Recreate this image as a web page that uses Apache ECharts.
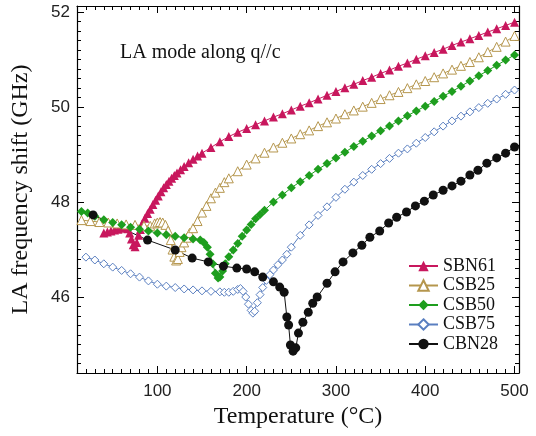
<!DOCTYPE html>
<html>
<head>
<meta charset="utf-8">
<script src="https://cdn.jsdelivr.net/npm/echarts@6/dist/echarts.min.js"></script>
<style>
  html, body { margin: 0; padding: 0; background: #fff; }
  #main { width: 536px; height: 436px; }
</style>
</head>
<body>
<div id="main"></div>
<script>
// [temperature, LA shift]
let sbn61 = [[40,47.35],[44,47.37],[48,47.39],[52,47.41],[56,47.43],[60,47.45],[64,47.47],[67,47.44],[69,47.35],[71,47.22],[73,47.1],[75,47.06],[77,47.15],[79,47.3],[81,47.42],[83,47.55],[86,47.66],[89,47.76],[92,47.85],[95,47.95],[98,48.04],[101,48.13],[104,48.22],[107,48.3],[110,48.37],[113,48.44],[116,48.5],[119,48.56],[122,48.61],[126,48.68],[130,48.75],[135,48.83],[140,48.9],[145,48.97],[150,49.03],[160,49.15],[170,49.27],[180,49.38],[190,49.47],[200,49.55],[210,49.63],[220,49.71],[230,49.79],[240,49.86],[250,49.94],[260,50.02],[270,50.09],[280,50.17],[290,50.25],[300,50.33],[310,50.41],[320,50.48],[330,50.56],[340,50.63],[350,50.71],[360,50.78],[370,50.86],[380,50.93],[390,51.01],[400,51.08],[410,51.15],[420,51.22],[430,51.3],[440,51.37],[450,51.44],[460,51.51],[470,51.58],[480,51.65],[490,51.72],[500,51.79]];

let csb25 = [[15,47.62],[25,47.6],[35,47.58],[45,47.57],[55,47.55],[65,47.53],[75,47.52],[85,47.5],[92,47.5],[97,47.55],[100,47.57],[103,47.58],[106,47.57],[109,47.52],[112,47.4],[115,47.2],[117,47.0],[119,46.85],[121,46.77],[123,46.8],[125,46.95],[127,47.05],[130,47.15],[133,47.25],[136,47.35],[140,47.45],[145,47.6],[150,47.78],[155,47.92],[160,48.08],[165,48.2],[170,48.3],[175,48.42],[180,48.5],[190,48.65],[200,48.79],[210,48.92],[220,49.04],[230,49.15],[240,49.25],[250,49.34],[260,49.43],[270,49.51],[280,49.6],[290,49.68],[300,49.76],[310,49.85],[320,49.93],[330,50.01],[340,50.09],[350,50.17],[360,50.25],[370,50.32],[380,50.4],[390,50.48],[400,50.55],[410,50.63],[420,50.71],[430,50.79],[440,50.87],[450,50.95],[460,51.05],[470,51.16],[480,51.27],[490,51.38],[500,51.5]];

let csb50 = [[15,47.8],[22,47.77],[30,47.7],[40,47.63],[50,47.57],[60,47.52],[70,47.47],[80,47.43],[90,47.39],[100,47.35],[110,47.31],[120,47.28],[130,47.25],[140,47.22],[148,47.2],[152,47.15],[156,47.05],[159,46.9],[162,46.7],[165,46.5],[168,46.4],[170,46.42],[173,46.55],[176,46.7],[180,46.85],[185,46.99],[190,47.13],[195,47.28],[200,47.41],[205,47.53],[210,47.65],[215,47.74],[220,47.83],[230,48.0],[240,48.15],[250,48.3],[260,48.43],[270,48.56],[280,48.69],[290,48.81],[300,48.93],[310,49.05],[320,49.17],[330,49.28],[340,49.39],[350,49.5],[360,49.6],[370,49.71],[380,49.82],[390,49.92],[400,50.02],[410,50.12],[420,50.23],[430,50.33],[440,50.44],[450,50.55],[460,50.66],[470,50.77],[480,50.88],[490,50.99],[500,51.1]];

let csb75 = [[20,46.84],[30,46.78],[40,46.7],[50,46.63],[60,46.56],[70,46.49],[80,46.42],[90,46.34],[100,46.27],[110,46.23],[120,46.2],[130,46.17],[140,46.15],[150,46.13],[160,46.12],[170,46.11],[175,46.1],[180,46.1],[185,46.12],[190,46.16],[193,46.18],[196,46.12],[199,46.0],[202,45.85],[205,45.72],[207,45.66],[209,45.7],[212,45.88],[215,46.05],[218,46.2],[222,46.35],[226,46.47],[230,46.57],[235,46.68],[240,46.78],[245,46.9],[250,47.05],[260,47.3],[270,47.52],[280,47.72],[290,47.9],[300,48.1],[310,48.27],[320,48.42],[330,48.56],[340,48.69],[350,48.81],[360,48.92],[370,49.03],[380,49.12],[390,49.24],[400,49.36],[410,49.48],[420,49.6],[430,49.71],[440,49.81],[450,49.9],[460,49.99],[470,50.08],[480,50.17],[490,50.27],[500,50.36]];

let cbn28 = [[28,47.73],[89,47.2],[120,46.99],[139,46.82],[157,46.74],[174,46.65],[189,46.61],[200,46.59],[209,46.53],[218,46.42],[230,46.32],[237,46.21],[242,46.1],[245,45.58],[247,45.41],[249,44.99],[252,44.86],[255,44.93],[258,45.24],[263,45.47],[269,45.68],[274,45.87],[279,46.0],[290,46.29],[299,46.53],[308,46.74],[319,46.93],[329,47.09],[338,47.26],[349,47.39],[359,47.56],[368,47.68],[379,47.79],[389,47.92],[399,48.02],[409,48.15],[420,48.25],[430,48.34],[440,48.44],[450,48.57],[459,48.67],[469,48.82],[480,48.93],[490,49.03],[500,49.16]];

let names = ['SBN61', 'CSB25', 'CSB50', 'CSB75', 'CBN28'];
let colors = ['#c8175d', '#b5964d', '#1e9e1e', '#5a7fc0', '#111111'];

let xMin = 10, xMax = 505;
let yMin = 44.4, yMax = 52.13;

let chart = echarts.init(document.getElementById('main'));

function xAxisPart(pos, major) {
    let ax = {
        type: 'value', position: pos, min: xMin, max: xMax,
        axisLine: { show: major, lineStyle: { color: '#000', width: 1.2 } },
        axisTick: { show: true, inside: true, length: major ? 7 : 4, lineStyle: { color: '#000' } },
        axisLabel: { show: false },
        splitLine: { show: false }
    };
    if (!major) ax.interval = 10;
    return ax;
}

function yAxisPart(pos, major) {
    let ax = {
        type: 'value', position: pos, min: yMin, max: yMax,
        axisLine: { show: major, lineStyle: { color: '#000', width: 1.2 } },
        axisTick: { show: true, inside: true, length: major ? 7 : 4, lineStyle: { color: '#000' } },
        axisLabel: { show: false },
        splitLine: { show: false }
    };
    if (!major) ax.interval = 0.2;
    return ax;
}

let xAxes = [xAxisPart('bottom', true), xAxisPart('bottom', false), xAxisPart('top', true), xAxisPart('top', false)];
xAxes[0].axisLabel = { show: true, showMinLabel: false, showMaxLabel: false, margin: 10, color: '#222', fontSize: 17, fontFamily: 'Liberation Sans' };
xAxes[0].name = 'Temperature (°C)';
xAxes[0].nameLocation = 'middle';
xAxes[0].nameGap = 25;
xAxes[0].nameTextStyle = { fontFamily: 'Liberation Serif', fontSize: 24, color: '#111' };

let yAxes = [yAxisPart('left', true), yAxisPart('left', false), yAxisPart('right', true), yAxisPart('right', false)];
yAxes[0].axisLabel = { show: true, showMinLabel: false, showMaxLabel: false, margin: 7, color: '#222', fontSize: 17, fontFamily: 'Liberation Sans' };
yAxes[0].name = 'LA frequency shift (GHz)';
yAxes[0].nameLocation = 'middle';
yAxes[0].nameGap = 44;
yAxes[0].nameTextStyle = { fontFamily: 'Liberation Serif', fontSize: 24, color: '#111' };

let symbols = ['triangle', 'triangle', 'diamond', 'diamond', 'circle'];
let sizes = [9, 9, 9, 8, 9];
let hollow = [false, true, false, true, false];
let datas = [sbn61, csb25, csb50, csb75, cbn28];

let series = [];
for (let i = 0; i < names.length; i++) {
    series.push({
        name: names[i],
        type: 'line',
        data: datas[i],
        symbol: symbols[i],
        symbolSize: sizes[i],
        showAllSymbol: true,
        lineStyle: { color: colors[i], width: 1 },
        itemStyle: hollow[i]
            ? { color: '#fff', borderColor: colors[i], borderWidth: 1 }
            : { color: colors[i], borderWidth: 0 },
        emphasis: { disabled: true }
    });
}

let option = {
    animation: false,
    title: {
        text: 'LA mode along q//c',
        left: 120, top: 43, padding: 0,
        textStyle: { fontFamily: 'Liberation Serif', fontSize: 20, fontWeight: 'normal', color: '#111' }
    },
    legend: {
        orient: 'vertical',
        left: 403, top: 252,
        itemWidth: 29, itemHeight: 13, itemGap: 1.5,
        textStyle: { fontFamily: 'Liberation Serif', fontSize: 18, color: '#111' },
        data: names
    },
    grid: { left: 77, right: 17, top: 6, bottom: 63, outerBoundsMode: 'none' },
    xAxis: xAxes,
    yAxis: yAxes,
    series: series
};

chart.setOption(option);
</script>
</body>
</html>
